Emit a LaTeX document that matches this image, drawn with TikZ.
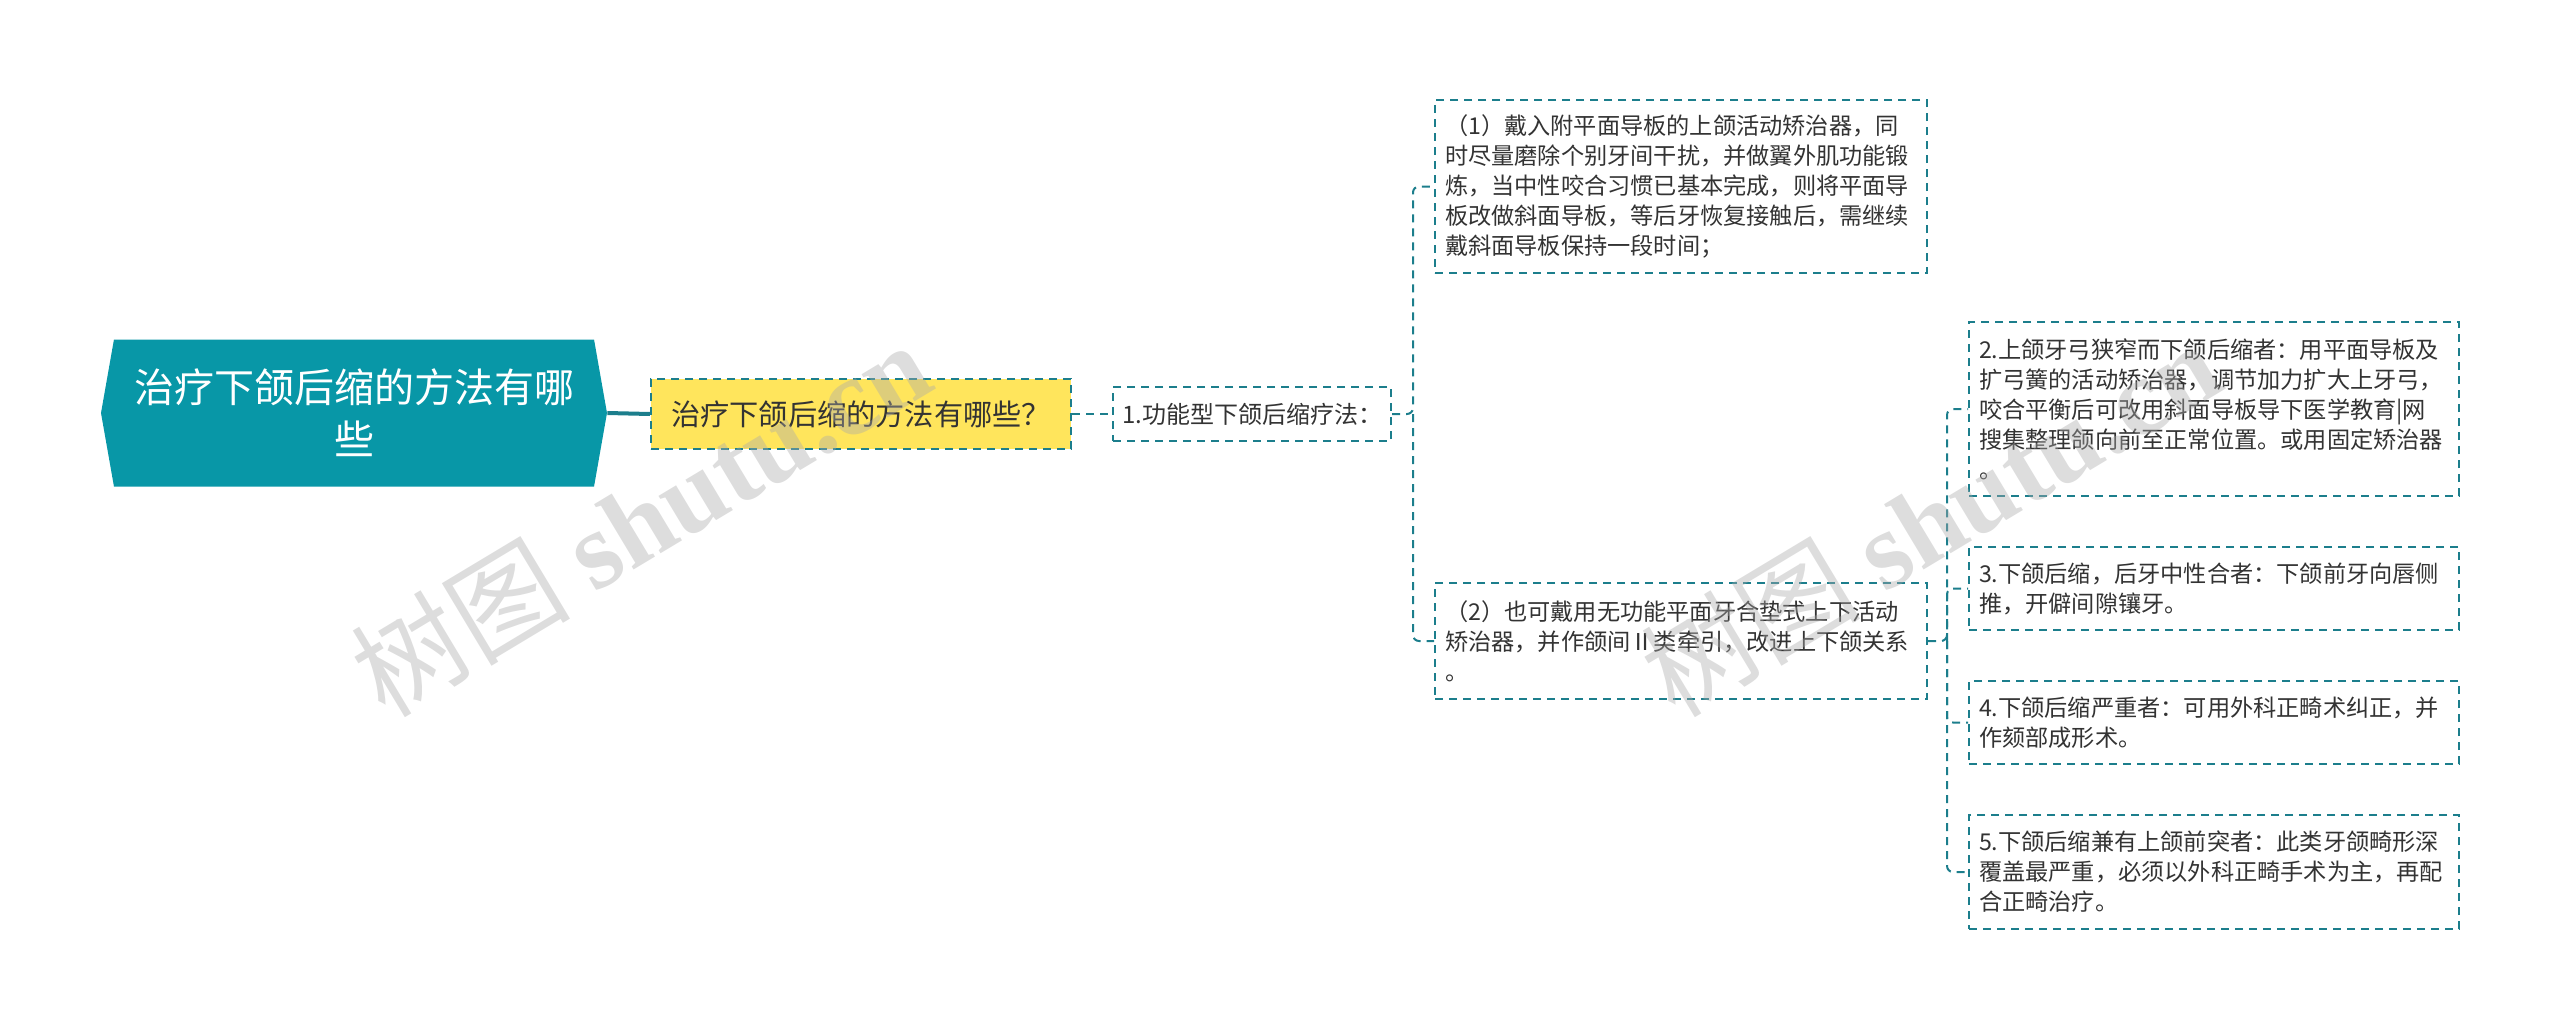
\documentclass[tikz,border=0pt]{standalone}
\usepackage{fontspec}
\setmainfont{Noto Sans CJK SC}
\newfontfamily\markfont{Liberation Serif}
\usetikzlibrary{shapes.symbols}
\definecolor{rootfill}{RGB}{8,151,167}
\definecolor{askfill}{RGB}{255,229,92}
\definecolor{edge}{RGB}{28,126,140}
\definecolor{ink}{RGB}{51,51,51}
\definecolor{markgray}{RGB}{170,170,170}
\tikzset{
  leaf/.style={draw=edge, line width=1pt, dash pattern=on 4pt off 3pt, fill=white,
    text=ink, align=left, inner xsep=5pt, inner ysep=0pt,
    font=\fontsize{11.6pt}{15pt}\selectfont},
  link/.style={draw=edge, line width=1pt, dash pattern=on 4pt off 3pt, rounded corners=3pt},
  wmark/.style={rotate=31, text=markgray, opacity=0.4, inner sep=0pt,
    font=\fontsize{55pt}{55pt}\selectfont}
}
\begin{document}
\begin{tikzpicture}[x=0.5pt,y=-0.5pt]
  \useasboundingbox (0,0) rectangle (2560,1028);
  \node[signal, signal to=west and east, signal pointer angle=160, fill=rootfill,
    text=white, minimum width=253pt, minimum height=73.5pt, inner sep=0pt,
    align=center, font=\fontsize{20pt}{26pt}\selectfont] (root) at (354,413)
    {治疗下颌后缩的方法有哪\\些};
  \node[fill=askfill, draw=edge, line width=1pt, dash pattern=on 4pt off 3pt,
    minimum width=210pt, minimum height=35pt, inner sep=0pt, text=ink,
    font=\fontsize{14.6pt}{18pt}\selectfont] (ask) at (861,414)
    {治疗下颌后缩的方法有哪些？};
  \node[leaf, align=center, inner xsep=3pt, minimum width=139pt, minimum height=27pt,
    font=\fontsize{12pt}{15pt}\selectfont] (func) at (1252,414)
    {1.功能型下颌后缩疗法：};
  \node[leaf, text width=236pt, minimum height=86.5pt] (plate) at (1681,186.5)
    {（1）戴入附平面导板的上颌活动矫治器，同\\
     时尽量磨除个别牙间干扰，并做翼外肌功能锻\\
     炼，当中性咬合习惯已基本完成，则将平面导\\
     板改做斜面导板，等后牙恢复接触后，需继续\\
     戴斜面导板保持一段时间；};
  \node[leaf, text width=236pt, minimum height=58pt] (pad) at (1681,641)
    {（2）也可戴用无功能平面牙合垫式上下活动\\
     矫治器，并作颌间Ⅱ类牵引，改进上下颌关系\\
     。};
  \node[leaf, text width=235pt, minimum height=87pt] (narrow) at (2214,409)
    {2.上颌牙弓狭窄而下颌后缩者：用平面导板及\\
     扩弓簧的活动矫治器，调节加力扩大上牙弓，\\
     咬合平衡后可改用斜面导板导下医学教育|网\\
     搜集整理颌向前至正常位置。或用固定矫治器\\
     。};
  \node[leaf, text width=235pt, minimum height=41.5pt] (neutral) at (2214,588.5)
    {3.下颌后缩，后牙中性合者：下颌前牙向唇侧\\
     推，开僻间隙镶牙。};
  \node[leaf, text width=235pt, minimum height=41.5pt] (severe) at (2214,722.5)
    {4.下颌后缩严重者：可用外科正畸术纠正，并\\
     作颏部成形术。};
  \node[leaf, text width=235pt, minimum height=57pt] (protrude) at (2214,872)
    {5.下颌后缩兼有上颌前突者：此类牙颌畸形深\\
     覆盖最严重，必须以外科正畸手术为主，再配\\
     合正畸治疗。};
  \begin{scope}
    \draw[edge, line width=2pt] (root.east) -- (ask.west);
    \draw[link] (ask.east) -- (func.west);
    \draw[link] (func.east) -- ++(10.5pt,0) coordinate (fork1) |- (plate.west);
    \draw[link] (fork1) |- (pad.west);
    \draw[link] (pad.east) -- ++(9.5pt,0) coordinate (fork2) |- (narrow.west);
    \draw[link] (fork2) |- (neutral.west);
    \draw[link] (fork2) |- (severe.west);
    \draw[link] (fork2) |- (protrude.west);
  \end{scope}
  \node[wmark] (mark1) at (640,518) {树图 {\markfont\bfseries shutu.cn}};
  \node[wmark] (mark2) at (1930,518) {树图 {\markfont\bfseries shutu.cn}};
\end{tikzpicture}
\end{document}
